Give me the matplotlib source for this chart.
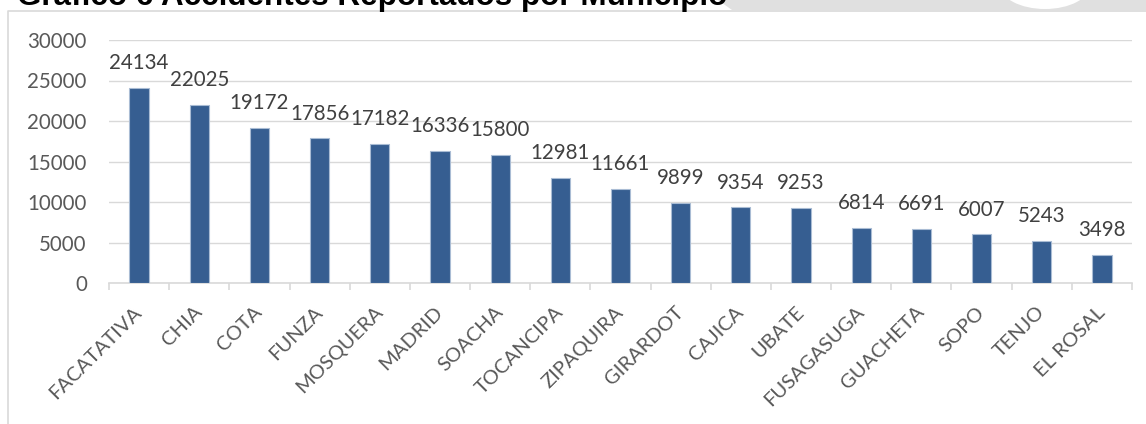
import numpy as np
import matplotlib
matplotlib.use("Agg")
import matplotlib.pyplot as plt
from matplotlib.patches import Polygon, Ellipse
from matplotlib.lines import Line2D

# ---- datos ----
municipios = ["FACATATIVA", "CHIA", "COTA", "FUNZA", "MOSQUERA", "MADRID",
              "SOACHA", "TOCANCIPA", "ZIPAQUIRA", "GIRARDOT", "CAJICA", "UBATE",
              "FUSAGASUGA", "GUACHETA", "SOPO", "TENJO", "EL ROSAL"]
accidentes = [24134, 22025, 19172, 17856, 17182, 16336, 15800, 12981, 11661,
              9899, 9354, 9253, 6814, 6691, 6007, 5243, 3498]
y_ticks = [0, 5000, 10000, 15000, 20000, 25000, 30000]
titulo = "Gráfico 6 Accidentes Reportados por Municipio"

plt.rcParams["font.family"] = ["Lato", "DejaVu Sans"]

W, H = 1146, 424
fig = plt.figure(figsize=(W / 100, H / 100), dpi=100)


def fx(px):
    return px / W


def fy(py):
    return 1 - py / H


# --- banda gris superior y forma blanca ---
gris = Polygon([(fx(718), fy(0)), (fx(732), fy(10)), (fx(W), fy(10)), (fx(W), fy(0))],
               closed=True, transform=fig.transFigure, facecolor="#e0e0e0",
               edgecolor="none", zorder=0)
fig.add_artist(gris)
blanco = Ellipse((fx(1045), fy(-15)), 90 / W, 48 / H, transform=fig.transFigure,
                 facecolor="white", edgecolor="none", zorder=0.5)
fig.add_artist(blanco)

# --- marco del grafico ---
fig.add_artist(Line2D([fx(8), fx(8), fx(W)], [fy(H), fy(11), fy(11)],
                      transform=fig.transFigure, color="#d9d9d9", lw=1.2))

# --- titulo (cortado arriba, como en el original) ---
fig.text(fx(17), fy(5), titulo, fontsize=22.6, fontweight="bold",
         family="Liberation Sans", color="black", ha="left", va="baseline")

# --- ejes ---
ax = fig.add_axes([fx(109), fy(283), (1132 - 109) / W, (283 - 40) / H])
x = np.arange(len(municipios))
bars = ax.bar(x, accidentes, width=0.32, color="#365E91", edgecolor="#a9bcd4",
              linewidth=0.8, zorder=3)
ax.bar_label(bars, labels=[str(v) for v in accidentes], padding=10.5,
             fontsize=14.8, color="#404040")

ax.set_xlim(-0.5, len(municipios) - 0.5)
ax.set_ylim(0, 30000)
ax.set_yticks(y_ticks)
ax.set_yticklabels([str(t) for t in y_ticks], fontsize=14.8, color="#595959")
ax.grid(axis="y", color="#d9d9d9", lw=1, zorder=0)

ax.set_xticks(x)
ax.set_xticklabels(municipios, rotation=45, ha="right", va="center",
                   rotation_mode="anchor", fontsize=14.5, color="#595959")
ax.set_xticks(np.arange(-0.5, len(municipios)), minor=True)
ax.tick_params(axis="x", which="major", length=0, pad=19)
ax.tick_params(axis="x", which="minor", length=5, color="#d9d9d9", width=1.2)
ax.tick_params(axis="y", length=0, pad=16)

for s in ["top", "right", "left"]:
    ax.spines[s].set_visible(False)
ax.spines["bottom"].set_color("#d9d9d9")
ax.spines["bottom"].set_linewidth(1.2)

fig.savefig("out.png", dpi=100)
